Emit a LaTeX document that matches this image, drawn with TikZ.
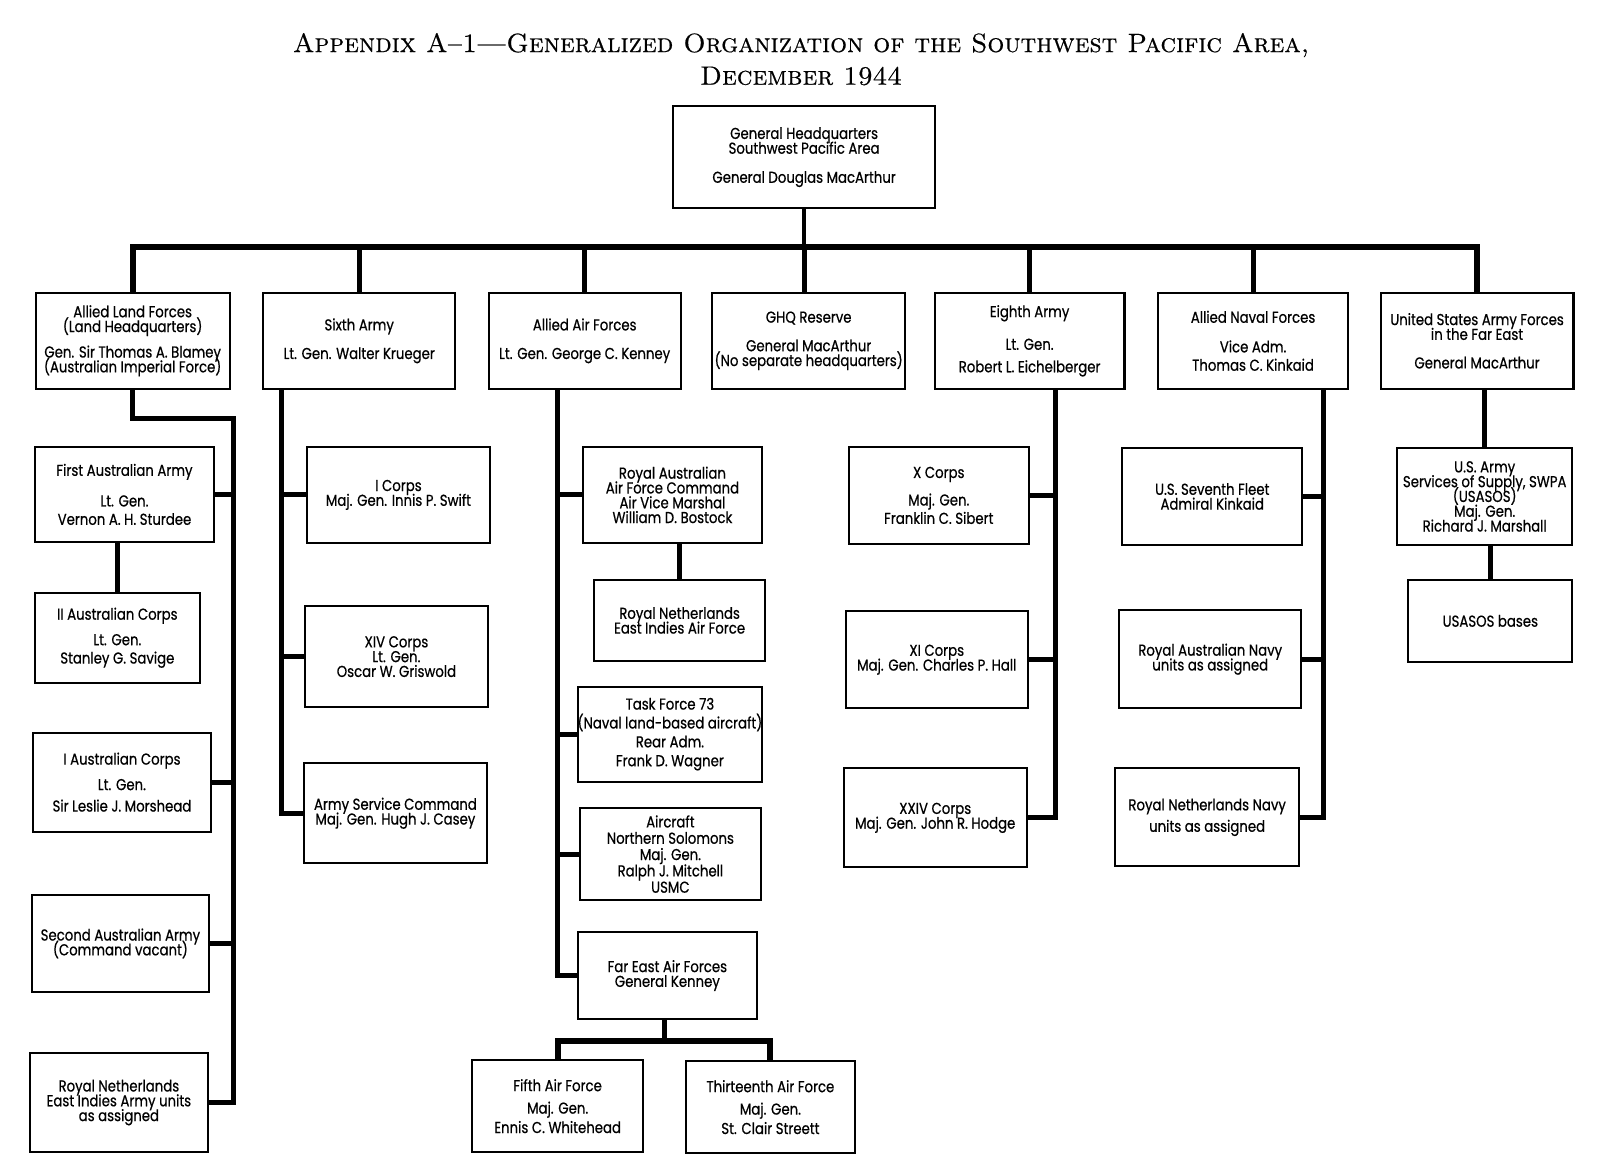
\documentclass[tikz,border=0pt]{standalone}
\usepackage{fontspec}
\newfontfamily\unitfont{Poppins}[FakeStretch=0.84, FakeBold=0.6]
\newfontfamily\titlefont{lmroman10-regular.otf}[SmallCapsFont=lmromancaps10-regular.otf, FakeBold=0.5, Ligatures=TeX]
\setlength{\lineskiplimit}{-20pt}
\begin{document}
\begin{tikzpicture}[x=1pt, y=-1pt,
  orgbox/.style={draw, line width=2pt, align=center, inner xsep=0pt, inner ysep=2pt, font=\unitfont\fontsize{15.5}{14.5}\selectfont},
  link/.style={line width=5pt},
  bus/.style={line width=6pt},
  heading/.style={align=center, font=\titlefont\fontsize{26}{32}\selectfont\scshape}]
\fill[white] (0,0) rectangle (1568,1148);
\node[heading] (title) at (785,58) {Appendix A--1---Generalized Organization of the Southwest Pacific Area,\\December 1944};

\node[orgbox, minimum width=256pt, minimum height=100pt] (ghq) at (788,154) {General Headquarters\\Southwest Pacific Area\\[14pt]General Douglas MacArthur};

\node[orgbox, minimum width=190pt, minimum height=94pt] (alf) at (130,334) {Allied Land Forces\\(Land Headquarters)\\[10.5pt]Gen. Sir Thomas A. Blamey\\(Australian Imperial Force)};
\node[orgbox, minimum width=188pt, minimum height=94pt] (sixth) at (352,334) {Sixth Army\\[13.5pt]Lt. Gen. Walter Krueger};
\node[orgbox, minimum width=188pt, minimum height=94pt] (aaf) at (573,334) {Allied Air Forces\\[13.5pt]Lt. Gen. George C. Kenney};
\node[orgbox, minimum width=189pt, minimum height=94pt] (ghqr) at (792.5,334) {GHQ Reserve\\[13.5pt]General MacArthur\\(No separate headquarters)};
\node[orgbox, minimum width=186pt, minimum height=94pt] (eighth) at (1009,334) {Eighth Army\\[17.5pt]Lt. Gen.\\[7.5pt]Robert L. Eichelberger};
\node[orgbox, minimum width=186pt, minimum height=94pt] (anf) at (1228,334) {Allied Naval Forces\\[14.5pt]Vice Adm.\\[3.5pt]Thomas C. Kinkaid};
\node[orgbox, minimum width=189pt, minimum height=94pt] (usaffe) at (1447.5,334) {United States Army Forces\\in the Far East\\[13.5pt]General MacArthur};

\node[orgbox, minimum width=176pt, minimum height=93pt] (faa) at (122,484.5) {First Australian Army\\[15.5pt]Lt. Gen.\\[3.5pt]Vernon A. H. Sturdee};
\node[orgbox, minimum width=162pt, minimum height=88pt] (iiac) at (115,625) {II Australian Corps\\[10.5pt]Lt. Gen.\\[3.5pt]Stanley G. Savige};
\node[orgbox, minimum width=175pt, minimum height=97pt] (iac) at (119.5,766.5) {I Australian Corps\\[10.5pt]Lt. Gen.\\[6.5pt]Sir Leslie J. Morshead};
\node[orgbox, minimum width=174pt, minimum height=95pt] (saa) at (118,924.5) {Second Australian Army\\(Command vacant)};
\node[orgbox, minimum width=175pt, minimum height=97pt] (rneia) at (116.5,1080.5) {Royal Netherlands\\East Indies Army units\\as assigned};

\node[orgbox, minimum width=179pt, minimum height=94pt] (icorps) at (390.5,485) {I Corps\\Maj. Gen. Innis P. Swift};
\node[orgbox, minimum width=179pt, minimum height=99pt] (xiv) at (388.5,643.5) {XIV Corps\\Lt. Gen.\\Oscar W. Griswold};
\node[orgbox, minimum width=179pt, minimum height=98pt] (asc) at (387.5,797) {Army Service Command\\Maj. Gen. Hugh J. Casey};

\node[orgbox, minimum width=176pt, minimum height=94pt] (raaf) at (659,485) {Royal Australian\\Air Force Command\\Air Vice Marshal\\William D. Bostock};
\node[orgbox, minimum width=168pt, minimum height=80pt] (rneiaf) at (666,608) {Royal Netherlands\\East Indies Air Force};
\node[orgbox, minimum width=177pt, minimum height=93pt] (tf73) at (656.5,719.5) {Task Force 73\\[4pt](Naval land-based aircraft)\\[4pt]Rear Adm.\\[4pt]Frank D. Wagner};
\node[orgbox, minimum width=178pt, minimum height=90pt] (ans) at (657,837) {Aircraft\\[1.5pt]Northern Solomons\\[1.5pt]Maj. Gen.\\[1.5pt]Ralph J. Mitchell\\[1.5pt]USMC};
\node[orgbox, minimum width=176pt, minimum height=86pt] (feaf) at (654,956) {Far East Air Forces\\General Kenney};
\node[orgbox, minimum width=167pt, minimum height=90pt] (fifth) at (546.5,1084) {Fifth Air Force\\[7.5pt]Maj. Gen.\\[4.5pt]Ennis C. Whitehead};
\node[orgbox, minimum width=166pt, minimum height=90pt] (thirteenth) at (755,1085) {Thirteenth Air Force\\[7.5pt]Maj. Gen.\\[4.5pt]St. Clair Streett};

\node[orgbox, minimum width=176pt, minimum height=95pt] (xcorps) at (920,485.5) {X Corps\\[12.5pt]Maj. Gen.\\[3.5pt]Franklin C. Sibert};
\node[orgbox, minimum width=178pt, minimum height=95pt] (xicorps) at (918,646.5) {XI Corps\\Maj. Gen. Charles P. Hall};
\node[orgbox, minimum width=179pt, minimum height=97pt] (xxiv) at (916.5,801.5) {XXIV Corps\\Maj. Gen. John R. Hodge};

\node[orgbox, minimum width=176pt, minimum height=95pt] (seventh) at (1188,486.5) {U.S. Seventh Fleet\\Admiral Kinkaid};
\node[orgbox, minimum width=178pt, minimum height=96pt] (ran) at (1186,646) {Royal Australian Navy\\units as assigned};
\node[orgbox, minimum width=180pt, minimum height=96pt] (rnn) at (1183,801) {Royal Netherlands Navy\\[6.5pt]units as assigned};

\node[orgbox, minimum width=172pt, minimum height=95pt] (usasos) at (1455,486.5) {U.S. Army\\Services of Supply, SWPA\\(USASOS)\\Maj. Gen.\\Richard J. Marshall};
\node[orgbox, minimum width=161pt, minimum height=81pt] (bases) at (1460.5,608.5) {USASOS bases};

\coordinate (bus) at (788,242);
\draw[line width=4pt] (ghq.south) -- (ghq.south |- bus);
\draw[link] (ghq.south |- bus) -- (ghq.south |- ghqr.north);
\draw[bus] (alf.north) |- (bus) -| (usaffe.north);
\draw[link] (sixth.north) -- (sixth.north |- bus);
\draw[link] (aaf.north) -- (aaf.north |- bus);
\draw[link] (eighth.north) -- (eighth.north |- bus);
\draw[link] (anf.north) -- (anf.north |- bus);

\coordinate (landrun) at (229,410);
\draw[link] (alf.south) |- (landrun) |- (rneia.east);
\draw[link] (faa.east) -- (faa.east -| landrun);
\draw[link] (iac.east) -- (iac.east -| landrun);
\draw[link] (saa.east) -- (saa.east -| landrun);
\draw[link] (faa.south -| iiac.north) -- (iiac.north);

\coordinate (armyrun) at (276,381);
\draw[link] (sixth.south -| armyrun) |- (asc.west);
\draw[link] (icorps.west) -- (icorps.west -| armyrun);
\draw[link] (xiv.west) -- (xiv.west -| armyrun);

\coordinate (airrun) at (546,381);
\draw[link] (aaf.south -| airrun) |- (feaf.west);
\draw[link] (raaf.west) -- (raaf.west -| airrun);
\draw[link] (tf73.west) -- (tf73.west -| airrun);
\draw[link] (ans.west) -- (ans.west -| airrun);
\draw[link] (raaf.south -| rneiaf.north) -- (rneiaf.north);
\coordinate (feafbus) at (651,1020);
\draw[link] (feaf.south -| feafbus) -- (feafbus);
\draw[bus] (fifth.north) |- (feafbus) -| (thirteenth.north);

\coordinate (eighthrun) at (1034,381);
\draw[link] (eighth.south -| eighthrun) |- (xxiv.east);
\draw[link] (xcorps.east) -- (xcorps.east -| eighthrun);
\draw[link] (xicorps.east) -- (xicorps.east -| eighthrun);

\coordinate (navyrun) at (1297,381);
\draw[link] (anf.south -| navyrun) |- (rnn.east);
\draw[link] (seventh.east) -- (seventh.east -| navyrun);
\draw[link] (ran.east) -- (ran.east -| navyrun);

\draw[link] (usaffe.south -| usasos.north) -- (usasos.north);
\draw[link] (usasos.south -| bases.north) -- (bases.north);
\end{tikzpicture}
\end{document}
